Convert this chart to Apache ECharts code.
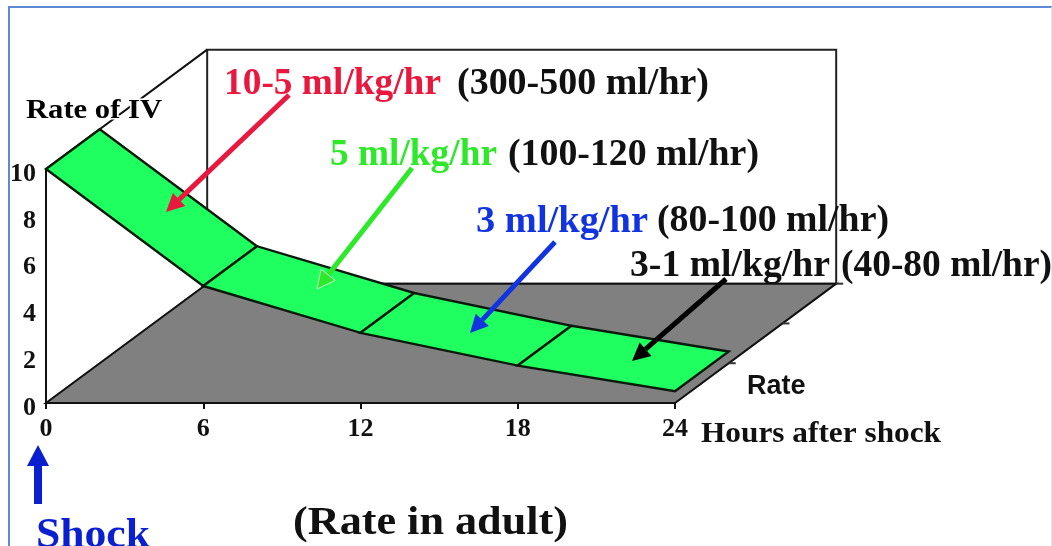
<!DOCTYPE html>
<html><head><meta charset="utf-8">
<style>html,body{margin:0;padding:0;background:#fff;overflow:hidden}#c{width:1052px;height:546px}</style>
<script src="https://cdn.jsdelivr.net/npm/echarts@6/dist/echarts.min.js"></script>
</head><body><div id="c"></div>
<script>
// Chart data
const hourTicks = [0, 6, 12, 18, 24];
const rateValues = [10, 5, 3, 1.6, 0.5];
const ribbonDepth = 1;
const floorDepth = 3;
const wallTop = 10;
const depthTicks = [1, 2, 3];
const annotations = [
  ['Rate of IV', 26, 111, 136, 27, '#000'],
  ['10-5 ml/kg/hr', 224, 84, 217, 37, '#e8183e'],
  ['(300-500 ml/hr)', 457, 84, 252, 37, '#111'],
  ['5 ml/kg/hr', 330, 155, 167, 37, '#2ee82a'],
  ['(100-120 ml/hr)', 508, 155, 251, 37, '#111'],
  ['3 ml/kg/hr', 476, 222, 172, 37, '#1234e0'],
  ['(80-100 ml/hr)', 657, 221, 232, 37, '#111'],
  ['3-1 ml/kg/hr', 630, 266, 200, 37, '#111'],
  ['(40-80 ml/hr)', 841, 266, 211, 37, '#111'],
  ['Hours after shock', 701, 435, 240, 29, '#111'],
  ['(Rate in adult)', 293, 523, 275, 41, '#111'],
  ['Shock', 36, 536, 114, 42, '#0a1fd0']
];
const arrows = [
  [289, 95, 166, 212, '#e8183e'],
  [412, 168, 317, 289, '#2ee82a'],
  [555, 242, 470, 333, '#1234e0'],
  [726, 279, 632, 361, '#000']
];

// Oblique projection: one depth unit, expressed in hours and rate units
const DEPTH_H = 2.05, DEPTH_R = 1.7;
const proj = (api, h, r, d) => api.coord([h + DEPTH_H * d, r + DEPTH_R * d]);
const SERIF = '"Liberation Serif","Times New Roman",serif';
const GREEN = '#1fff60';

const measure = document.createElement('canvas').getContext('2d');
function textEl(a) {
  const font = 'bold ' + a[4] + 'px ' + SERIF;
  measure.font = font;
  const s = a[3] / measure.measureText(a[0]).width;
  const halo = a[0] === 'Rate of IV';
  return { type: 'text', x: a[1], y: a[2], scaleX: s, z: 100,
    style: { text: a[0], font, fill: a[5], textAlign: 'left', textVerticalAlign: 'middle',
      stroke: halo ? '#fff' : null, lineWidth: halo ? 3 : 0, strokeFirst: true } };
}
function arrowEl(a, w, hl, hw) {
  const [x1, y1, x2, y2, c] = a;
  const L = Math.hypot(x2 - x1, y2 - y1), ux = (x2 - x1) / L, uy = (y2 - y1) / L;
  const bx = x2 - ux * hl, by = y2 - uy * hl;
  return [
    { type: 'line', z: 90, shape: { x1, y1, x2: bx, y2: by }, style: { stroke: c, lineWidth: w } },
    { type: 'polygon', z: 90, shape: { points: [[x2, y2], [bx - uy * hw, by + ux * hw], [bx + uy * hw, by - ux * hw]] },
      style: { fill: c, stroke: c === '#2ee82a' ? '#c8ffc8' : null, lineWidth: 1 } }
  ];
}
const lineStyle = { stroke: '#111', lineWidth: 2, fill: null };
const chart = echarts.init(document.getElementById('c'), null, { renderer: 'canvas' });
chart.setOption({
  animation: false,
  backgroundColor: '#fff',
  grid: { left: 46, right: 377, top: 169, bottom: 143 },
  xAxis: { type: 'value', min: 0, max: 24, interval: 6, splitLine: { show: false },
    axisLine: { lineStyle: { color: '#111', width: 2 } },
    axisTick: { show: true, length: 6, lineStyle: { color: '#111', width: 2 } },
    axisLabel: { fontFamily: SERIF, fontWeight: 'bold', fontSize: 26, color: '#111', margin: 13, showMinLabel: true, showMaxLabel: true, hideOverlap: false } },
  yAxis: { type: 'value', min: 0, max: 10, interval: 2, splitLine: { show: false },
    axisLine: { show: true, lineStyle: { color: '#111', width: 2 } },
    axisTick: { show: false },
    axisLabel: { fontFamily: SERIF, fontWeight: 'bold', fontSize: 26, color: '#111', margin: 10, verticalAlign: 'top', lineHeight: 10 } },
  series: [
    { type: 'custom', coordinateSystem: 'cartesian2d', z: 1, silent: true, data: [0], clip: false,
      renderItem: (p, api) => {
        const a = proj(api, 0, 0, 0), b = proj(api, 24, 0, 0), c = proj(api, 24, 0, floorDepth), d = proj(api, 0, 0, floorDepth);
        const t0 = proj(api, 0, wallTop, floorDepth), t1 = proj(api, 24, wallTop, floorDepth), top0 = proj(api, 0, wallTop, 0);
        const children = [
          { type: 'polygon', shape: { points: [d, t0, t1, c] }, style: { fill: '#fff', stroke: '#222', lineWidth: 2 } },
          { type: 'line', shape: { x1: top0[0], y1: top0[1], x2: t0[0], y2: t0[1] }, style: lineStyle },
          { type: 'polygon', shape: { points: [a, b, c, d] }, style: { fill: '#808080', stroke: '#111', lineWidth: 2 } }
        ];
        depthTicks.forEach(k => {
          const q = proj(api, 24, 0, k);
          children.push({ type: 'line', shape: { x1: q[0], y1: q[1], x2: q[0] + 7, y2: q[1] }, style: { stroke: '#333', lineWidth: 2 } });
        });
        return { type: 'group', children };
      } },
    { type: 'custom', coordinateSystem: 'cartesian2d', z: 3, silent: true, clip: false,
      data: hourTicks.slice(0, -1).map((h, i) => [h, rateValues[i], hourTicks[i + 1], rateValues[i + 1]]),
      encode: { x: [0, 2], y: [1, 3] },
      renderItem: (p, api) => {
        const h0 = api.value(0), r0 = api.value(1), h1 = api.value(2), r1 = api.value(3);
        return { type: 'polygon',
          shape: { points: [proj(api, h0, r0, 0), proj(api, h1, r1, 0), proj(api, h1, r1, ribbonDepth), proj(api, h0, r0, ribbonDepth)] },
          style: { fill: GREEN, stroke: '#0a1a0a', lineWidth: 2.4 } };
      } }
  ],
  graphic: [
    { type: 'rect', z: 80, shape: { x: 9, y: 7, width: 1060, height: 600 }, style: { fill: null, stroke: '#5c8ad6', lineWidth: 2 } },
    { type: 'line', z: 80, shape: { x1: 1051.5, y1: 7, x2: 1051.5, y2: 546 }, style: { stroke: '#dfe6f4', lineWidth: 1 } },
    { type: 'text', x: 747, y: 387, z: 100, style: { text: 'Rate', font: 'bold 27px "Liberation Sans",Arial,sans-serif', fill: '#111', textVerticalAlign: 'middle' } },
    ...annotations.map(textEl),
    ...arrows.flatMap(a => arrowEl(a, 5, 18, 9)),
    ...arrowEl([38, 504, 38, 445, '#0a1fd0'], 8, 21, 11)
  ]
});
</script></body></html>
